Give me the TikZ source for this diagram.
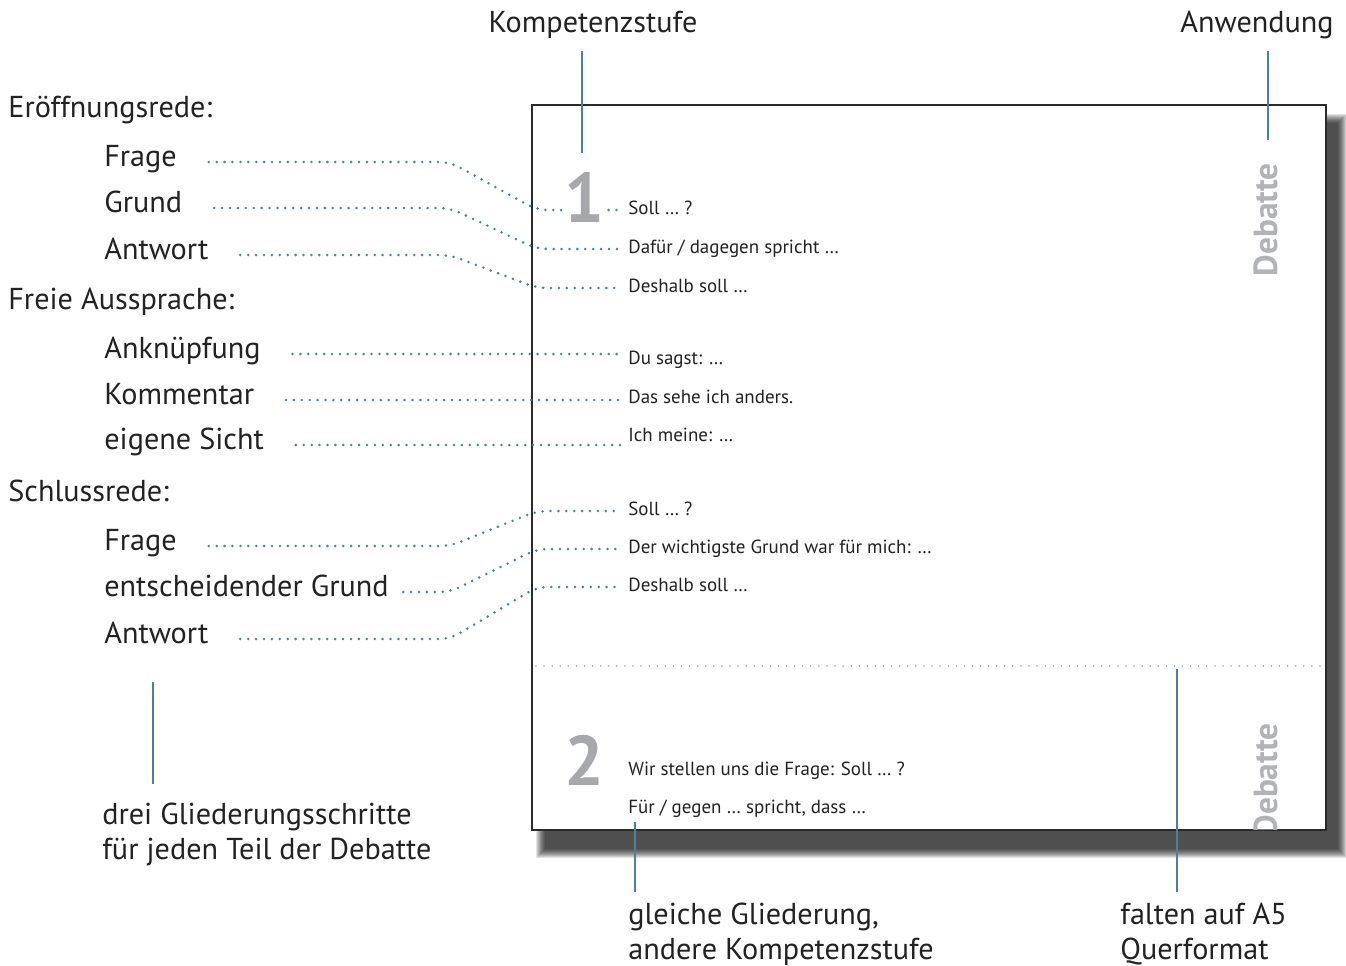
\documentclass[tikz,border=0pt]{standalone}
\usepackage{fontspec}
\setmainfont{PT Sans}
\usetikzlibrary{calc}
\definecolor{petrol}{HTML}{4A8296}
\definecolor{ink}{HTML}{222222}
\definecolor{rahmen}{HTML}{2A2A2A}
\definecolor{zgrau}{HTML}{A6A8AB}
\definecolor{rgrau}{HTML}{B1B3B6}
\definecolor{falz}{HTML}{9EA3A6}
\tikzset{
  schritt/.style={font=\fontsize{17.2}{20.4}\selectfont,text=ink,anchor=west,inner sep=0pt,text height=0.72em,text depth=0.22em},
  notiz/.style={font=\fontsize{17.2}{19.6}\selectfont,text=ink,anchor=north west,inner sep=0pt,align=left},
  karte/.style={font=\fontsize{10.8}{12}\selectfont,text=ink,anchor=west,inner sep=0pt,text height=0.72em,text depth=0.22em},
  ziffer/.style={font=\bfseries\fontsize{40}{40}\selectfont,text=zgrau,inner sep=1pt,fill=white},
  reiter/.style={font=\bfseries\fontsize{19}{19}\selectfont,text=rgrau,rotate=90,inner sep=0pt},
  sheet/.style={draw=rahmen,fill=white,line width=1.6pt},
  falzlinie/.style={draw=falz,line width=1pt,line cap=round,dash pattern=on 0pt off 4.6pt},
  punkte/.style={draw=petrol,line width=1.6pt,line cap=round,dash pattern=on 0pt off 4.5pt,rounded corners=6pt,shorten <=18pt,shorten >=4pt},
  zeiger/.style={draw=petrol,line width=1.4pt}
}
\begin{document}
\begin{tikzpicture}[x=0.02cm,y=-0.02cm]
\path[use as bounding box] (0,0) rectangle (1346,965);
% Blatt mit Schatten
\foreach \b in {0,...,9}
  \fill[black,opacity=0.11] (536+\b,114+\b) rectangle (1347-\b,858-\b);
\draw[sheet] (532,105) rectangle (1326,830);
\draw[falzlinie] (536,666) -- (1322,666);
\node[reiter] (deb1) at (1266,220) {Debatte};
\begin{scope}
\clip (533,106) rectangle (1325,829);
\node[reiter] (deb2) at (1266,780) {Debatte};
\end{scope}
% linke Spalte
\node[schritt] (eroeff) at (8,113) {Eröffnungsrede:};
\node[schritt] (frage1) at (104,162) {Frage};
\node[schritt] (grund1) at (104,208) {Grund};
\node[schritt] (antw1) at (104,255) {Antwort};
\node[schritt] (freie) at (8,305) {Freie Aussprache:};
\node[schritt] (ankn) at (104,354) {Anknüpfung};
\node[schritt] (komm) at (104,400) {Kommentar};
\node[schritt] (sicht) at (104,445) {eigene Sicht};
\node[schritt] (schluss) at (8,497) {Schlussrede:};
\node[schritt] (frage2) at (104,546) {Frage};
\node[schritt] (grund2) at (104,592) {entscheidender Grund};
\node[schritt] (antw2) at (104,639) {Antwort};
% Karte
\node[karte] (soll1) at (628,210) {Soll … ?};
\node[karte] (dafuer) at (628,249) {Dafür / dagegen spricht …};
\node[karte] (desh1) at (628,288) {Deshalb soll …};
\node[karte] (dusagst) at (628,360) {Du sagst: …};
\node[karte] (anders) at (628,399) {Das sehe ich anders.};
\node[karte] (meine) at (628,437) {Ich meine: …};
\node[karte] (soll2) at (628,511) {Soll … ?};
\node[karte] (wichtig) at (628,549) {Der wichtigste Grund war für mich: …};
\node[karte] (desh2) at (628,587) {Deshalb soll …};
\node[karte] (wir) at (628,771) {Wir stellen uns die Frage: Soll … ?};
\node[karte] (fuer) at (628,809) {Für / gegen … spricht, dass …};
% Verbindungen
\coordinate (knickL) at (450,0); \coordinate (knickR) at (537,0);
\draw[punkte] (frage1.east) -- (frage1.east -| knickL) -- (soll1.west -| knickR) -- (soll1.west);
\draw[punkte] (grund1.east) -- (grund1.east -| knickL) -- (dafuer.west -| knickR) -- (dafuer.west);
\draw[punkte] (antw1.east) -- (antw1.east -| knickL) -- (desh1.west -| knickR) -- (desh1.west);
\draw[punkte] (ankn.east) -- (ankn.east -| dusagst.west);
\draw[punkte] (komm.east) -- (komm.east -| anders.west);
\draw[punkte] (sicht.east) -- (sicht.east -| meine.west);
\draw[punkte] (frage2.east) -- (frage2.east -| knickL) -- (soll2.west -| knickR) -- (soll2.west);
\draw[punkte,shorten <=8pt] (grund2.east) -- (grund2.east -| knickL) -- (wichtig.west -| knickR) -- (wichtig.west);
\draw[punkte] (antw2.east) -- (antw2.east -| knickL) -- (desh2.west -| knickR) -- (desh2.west);
\node[ziffer] (eins) at (584,197) {1};
\node[ziffer] (zwei) at (584,760) {2};
% Beschriftungen aussen
\node[schritt,anchor=center] (kompetenz) at (593,28) {Kompetenzstufe};
\node[schritt,anchor=east] (anwendung) at (1334,28) {Anwendung};
\node[notiz] (drei) at (102,803) {drei Gliederungsschritte\\für jeden Teil der Debatte};
\node[notiz] (gleich) at (628,903) {gleiche Gliederung,\\andere Kompetenzstufe};
\node[notiz] (falten) at (1120,903) {falten auf A5\\Querformat};
\coordinate (zKomp) at (582,153); \coordinate (zAnw) at (1268,140);
\coordinate (zDrei) at (153,682); \coordinate (zGleich) at (635,822); \coordinate (zFalz) at (1177,669);
\draw[zeiger,shorten <=8pt] (kompetenz.south -| zKomp) -- (zKomp);
\draw[zeiger,shorten <=8pt] (anwendung.south -| zAnw) -- (zAnw);
\draw[zeiger,shorten <=11pt] (drei.north -| zDrei) -- (zDrei);
\draw[zeiger,shorten <=6pt] (gleich.north -| zGleich) -- (zGleich);
\draw[zeiger,shorten <=6pt] (falten.north -| zFalz) -- (zFalz);
\end{tikzpicture}
\end{document}
